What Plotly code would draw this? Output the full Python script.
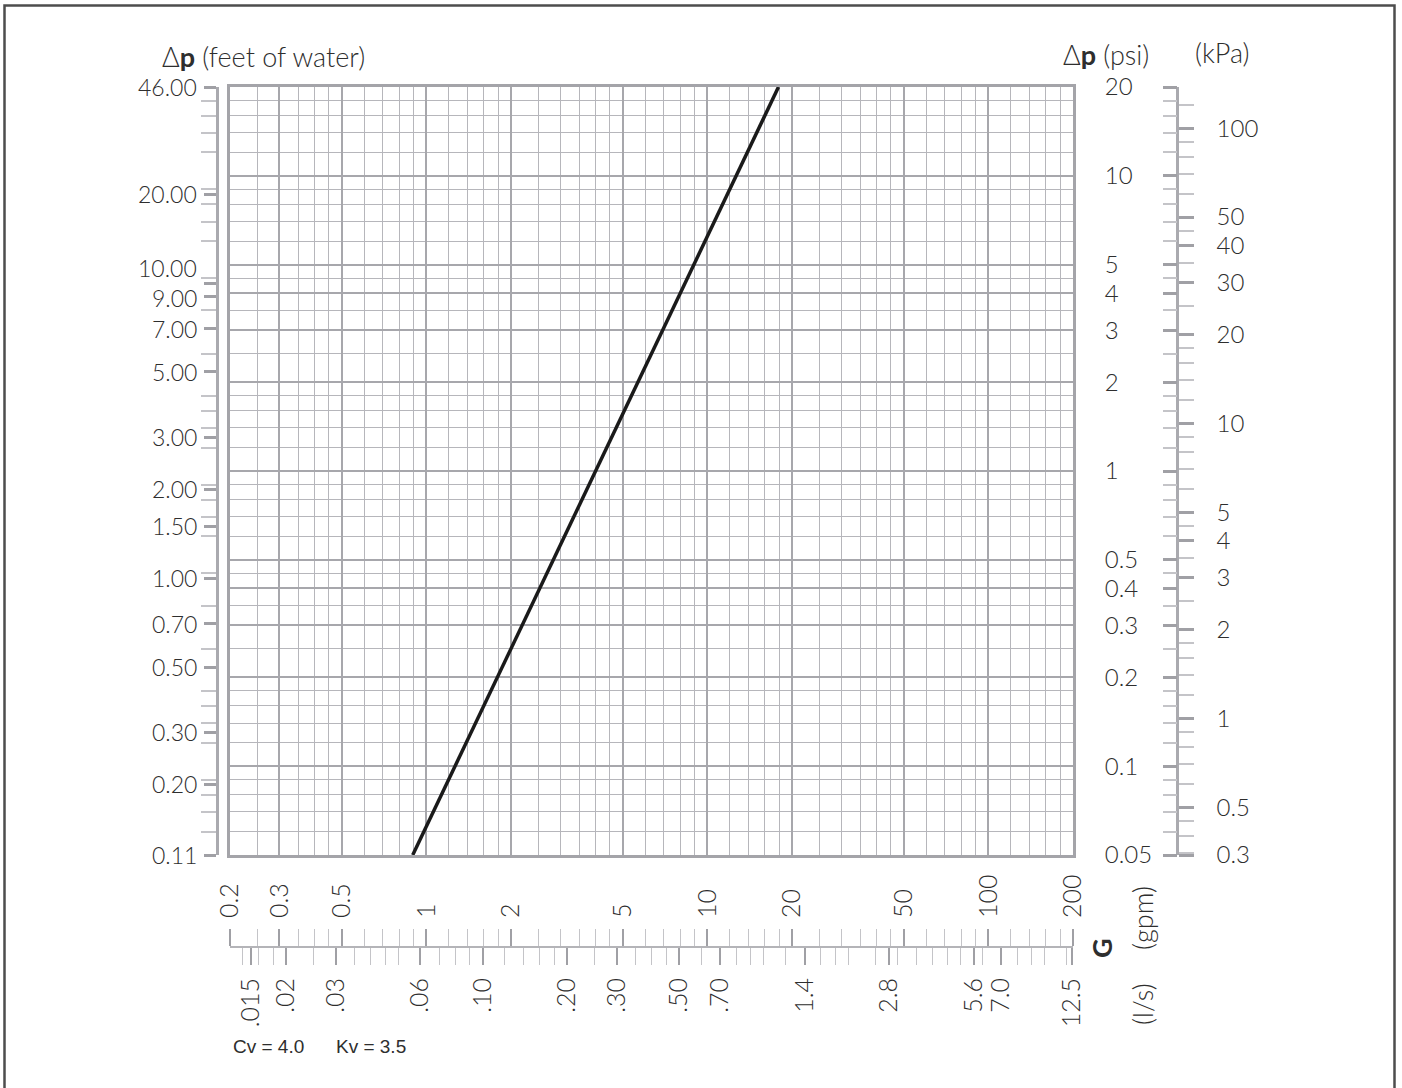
import numpy as np
import plotly.graph_objects as go

W, H = 1402, 1088

# ---------------- data ----------------
GPM_TICKS = [0.2, 0.3, 0.5, 1, 2, 5, 10, 20, 50, 100, 200]
GPM_TEXT = ["0.2", "0.3", "0.5", "1", "2", "5", "10", "20", "50", "100", "200"]

LPS_TICKS = [0.015, 0.02, 0.03, 0.06, 0.10, 0.20, 0.30, 0.50, 0.70, 1.4, 2.8, 5.6, 7.0, 12.5]
LPS_TEXT = [".015", ".02", ".03", ".06", ".10", ".20", ".30", ".50", ".70", "1.4", "2.8", "5.6", "7.0", "12.5"]

PSI_TICKS = [20, 10, 5, 4, 3, 2, 1, 0.5, 0.4, 0.3, 0.2, 0.1, 0.05]
PSI_TEXT = ["20", "10", "5", "4", "3", "2", "1", "0.5", "0.4", "0.3", "0.2", "0.1", "0.05"]

FT_TICKS = [46.0, 20, 10, 9, 7, 5, 3, 2, 1.5, 1, 0.7, 0.5, 0.3, 0.2, 0.11]
FT_TEXT = ["46.00", "20.00", "10.00", "9.00", "7.00", "5.00", "3.00", "2.00", "1.50",
           "1.00", "0.70", "0.50", "0.30", "0.20", "0.11"]

KPA_TICKS = [100, 50, 40, 30, 20, 10, 5, 4, 3, 2, 1, 0.5, 0.3]
KPA_TEXT = ["100", "50", "40", "30", "20", "10", "5", "4", "3", "2", "1", "0.5", "0.3"]

# valve curve (Cv = 4.0)
FLOW_GPM = [0.894, 1.79, 4.0, 8.0, 17.9]
DP_PSI = [0.05, 0.2, 1.0, 4.0, 20.0]

# unit conversions / scale ends
FT_PER_PSI = 2.307
KPA_PER_PSI = 6.895
LPS_PER_GPM = 0.06309
PSI_RANGE = [0.05, 20]
GPM_RANGE = [0.2, 200]
MANTISSAS = [1, 1.2, 1.4, 1.6, 1.8, 2, 2.5, 3, 3.5, 4, 4.5, 5, 6, 7, 8, 9]

# ---------------- helpers ----------------
def minor_vals(lo, hi, exclude):
    out = []
    for e in range(-4, 4):
        for m in MANTISSAS:
            v = round(m * 10.0 ** e, 10)
            if lo * 0.9999 <= v <= hi * 1.0001 and not np.any(np.isclose(v, exclude, rtol=1e-6)):
                out.append(v)
    return out

def clamp(vals, lo, hi):
    return [min(max(v, lo), hi) for v in vals]

lg = np.log10
FT_RANGE = [PSI_RANGE[0] * FT_PER_PSI, PSI_RANGE[1] * FT_PER_PSI]
KPA_RANGE = [PSI_RANGE[0] * KPA_PER_PSI, PSI_RANGE[1] * KPA_PER_PSI]
LPS_RANGE = [GPM_RANGE[0] * LPS_PER_GPM, GPM_RANGE[1] * LPS_PER_GPM]

psi_minor = minor_vals(*PSI_RANGE, PSI_TICKS)
gpm_minor = minor_vals(*GPM_RANGE, GPM_TICKS)
lps_minor = minor_vals(*LPS_RANGE, LPS_TICKS)
kpa_minor = minor_vals(*KPA_RANGE, KPA_TICKS)
ft_minor = [v * FT_PER_PSI for v in psi_minor]
ft_vals = clamp(FT_TICKS, *FT_RANGE)

# ---------------- styles ----------------
FONT = "Lato"
TXT = "#2e2e2e"
GRID_MAJ = "#a7a7ac"
GRID_MIN = "#b6b6bb"
FRAME = "#a4a4a9"
TICK_MAJ = "#a0a0a5"
TICK_MIN = "#c4c4c8"
tickfont = dict(family=FONT, size=24, color=TXT, weight=300)
xtickfont = dict(family=FONT, size=25, color=TXT, weight=300)
ftfont = dict(family=FONT, size=23, color=TXT, weight=300)
title_font = dict(family=FONT, size=27, color=TXT, weight=300)
FT_LABEL_NUDGE = {"10.00": 15, "9.00": -1}   # label yshift (px) to keep neighbours apart

# pixel-to-paper helpers (zero margins)
px = lambda v: v / W
py = lambda v: 1 - v / H

XDOM = [px(230), px(1073)]
YDOM = [py(855), py(87)]
SCALE_Y = py(947)

fig = go.Figure()

fig.add_trace(go.Scatter(
    x=FLOW_GPM, y=DP_PSI, mode="lines",
    line=dict(color="#1a1a1a", width=3.5),
    xaxis="x", yaxis="y", hoverinfo="skip", showlegend=False))

# invisible traces to attach auxiliary axes
for xa, ya in [("x2", "y"), ("x3", "y"), ("x", "y2"), ("x", "y3"), ("x", "y4")]:
    fig.add_trace(go.Scatter(x=[None], y=[None], xaxis=xa, yaxis=ya,
                             mode="markers", showlegend=False, hoverinfo="skip"))

fig.update_layout(
    width=W, height=H,
    margin=dict(l=0, r=0, t=0, b=0, autoexpand=False),
    paper_bgcolor="white", plot_bgcolor="white",
    showlegend=False,
    xaxis=dict(
        domain=XDOM, anchor="y", type="log", range=[lg(GPM_RANGE[0]), lg(GPM_RANGE[1])],
        tickmode="array", tickvals=GPM_TICKS, showticklabels=False, ticks="",
        showgrid=True, gridcolor=GRID_MAJ, gridwidth=2,
        minor=dict(tickmode="array", tickvals=gpm_minor, showgrid=True,
                   gridcolor=GRID_MIN, gridwidth=1.3, ticks=""),
        showline=True, mirror=True, linecolor=FRAME, linewidth=3, zeroline=False,
    ),
    yaxis=dict(
        domain=YDOM, anchor="x", type="log", range=[lg(PSI_RANGE[0]), lg(PSI_RANGE[1])],
        side="right", tickmode="array", tickvals=PSI_TICKS, ticktext=PSI_TEXT,
        ticks="", ticklabelstandoff=24, tickfont=tickfont,
        showgrid=True, gridcolor=GRID_MAJ, gridwidth=2,
        minor=dict(tickmode="array", tickvals=psi_minor, showgrid=True,
                   gridcolor=GRID_MIN, gridwidth=1.3, ticks=""),
        showline=True, mirror=True, linecolor=FRAME, linewidth=3, zeroline=False,
    ),
    # gpm scale (labels above the line)
    xaxis2=dict(
        overlaying="x", anchor="free", position=SCALE_Y, side="top", type="log",
        range=[lg(GPM_RANGE[0]), lg(GPM_RANGE[1])],
        tickmode="array", tickvals=GPM_TICKS, ticktext=GPM_TEXT, tickangle=-90,
        ticks="outside", ticklen=17, tickwidth=1.6, tickcolor=TICK_MAJ,
        ticklabelstandoff=6, tickfont=xtickfont,
        minor=dict(tickmode="array", tickvals=gpm_minor, ticks="outside",
                   ticklen=17, tickwidth=1.3, tickcolor=TICK_MIN, showgrid=False),
        showgrid=False, showline=True, linecolor="#b4b4b8", linewidth=2, zeroline=False,
    ),
    # l/s scale (labels below the line)
    xaxis3=dict(
        overlaying="x", anchor="free", position=SCALE_Y, side="bottom", type="log",
        range=[lg(LPS_RANGE[0]), lg(LPS_RANGE[1])],
        tickmode="array", tickvals=LPS_TICKS, ticktext=LPS_TEXT, tickangle=-90,
        ticks="outside", ticklen=17, tickwidth=1.6, tickcolor=TICK_MAJ,
        ticklabelstandoff=3, tickfont=xtickfont,
        minor=dict(tickmode="array", tickvals=lps_minor, ticks="outside",
                   ticklen=17, tickwidth=1.3, tickcolor=TICK_MIN, showgrid=False),
        showgrid=False, showline=False, zeroline=False,
    ),
    # feet of water scale (left)
    yaxis2=dict(
        overlaying="y", anchor="free", position=px(217), side="left", type="log",
        range=[lg(FT_RANGE[0]), lg(FT_RANGE[1])],
        tickmode="array", tickvals=ft_vals, showticklabels=False,
        ticks="outside", ticklen=12, tickwidth=2.5, tickcolor=TICK_MAJ,
        minor=dict(tickmode="array", tickvals=ft_minor, ticks="outside",
                   ticklen=15, tickwidth=1.5, tickcolor=TICK_MIN, showgrid=False),
        showgrid=False, showline=True, linecolor="#aaaaaf", linewidth=2.5, zeroline=False,
    ),
    # kPa scale (right, labels)
    yaxis3=dict(
        overlaying="y", anchor="free", position=px(1177), side="right", type="log",
        range=[lg(KPA_RANGE[0]), lg(KPA_RANGE[1])],
        tickmode="array", tickvals=clamp(KPA_TICKS, *KPA_RANGE), ticktext=KPA_TEXT,
        ticks="outside", ticklen=15, tickwidth=2.5, tickcolor=TICK_MAJ,
        ticklabelstandoff=18, tickfont=tickfont,
        minor=dict(tickmode="array", tickvals=kpa_minor, ticks="outside",
                   ticklen=15, tickwidth=1.5, tickcolor=TICK_MIN, showgrid=False),
        showgrid=False, showline=True, linecolor="#aaaaaf", linewidth=2.5, zeroline=False,
    ),
    # psi ticks on the left side of the kPa line
    yaxis4=dict(
        overlaying="y", anchor="free", position=px(1177), side="left", type="log",
        range=[lg(PSI_RANGE[0]), lg(PSI_RANGE[1])],
        tickmode="array", tickvals=PSI_TICKS, showticklabels=False,
        ticks="outside", ticklen=14, tickwidth=2.5, tickcolor=TICK_MAJ,
        minor=dict(tickmode="array", tickvals=psi_minor, ticks="outside",
                   ticklen=14, tickwidth=1.5, tickcolor=TICK_MIN, showgrid=False),
        showgrid=False, showline=False, zeroline=False,
    ),
)

# feet-of-water tick labels (as annotations tied to the feet axis)
for v, t in zip(ft_vals, FT_TEXT):
    fig.add_annotation(x=px(199), xref="paper", y=lg(v), yref="y2", text=t,
                       xanchor="right", yanchor="middle", showarrow=False,
                       yshift=FT_LABEL_NUDGE.get(t, 0), font=ftfont)

ann = [
    dict(x=px(160), y=py(56), text="Δ<b>p</b> (feet of water)", xanchor="left", yanchor="middle"),
    dict(x=px(1061), y=py(54), text="Δ<b>p</b> (psi)", xanchor="left", yanchor="middle"),
    dict(x=px(1193), y=py(52), text="(kPa)", xanchor="left", yanchor="middle"),
    dict(x=px(1101), y=py(948), text="<b>G</b>", textangle=-90, xanchor="center", yanchor="middle"),
    dict(x=px(1142), y=py(918), text="(gpm)", textangle=-90, xanchor="center", yanchor="middle"),
    dict(x=px(1142), y=py(1004), text="(l/s)", textangle=-90, xanchor="center", yanchor="middle"),
]
for a in ann:
    a.update(xref="paper", yref="paper", showarrow=False, font=title_font)
    fig.add_annotation(**a)

fig.add_annotation(x=px(231), y=py(1046), xref="paper", yref="paper", showarrow=False,
                   text="Cv = 4.0&nbsp;&nbsp;&nbsp;&nbsp;&nbsp;&nbsp;Kv = 3.5", xanchor="left", yanchor="middle",
                   font=dict(family="Liberation Sans", size=19, color=TXT))

# outer frame
fig.add_shape(type="rect", xref="paper", yref="paper",
              x0=px(4.5), x1=px(1394.5), y0=-0.05, y1=py(5.5),
              line=dict(color="#4d4d4d", width=2.5), fillcolor="rgba(0,0,0,0)", layer="above")

fig.write_html("out.html", config={"displayModeBar": False},
               post_script="document.body.style.margin='0px';")
